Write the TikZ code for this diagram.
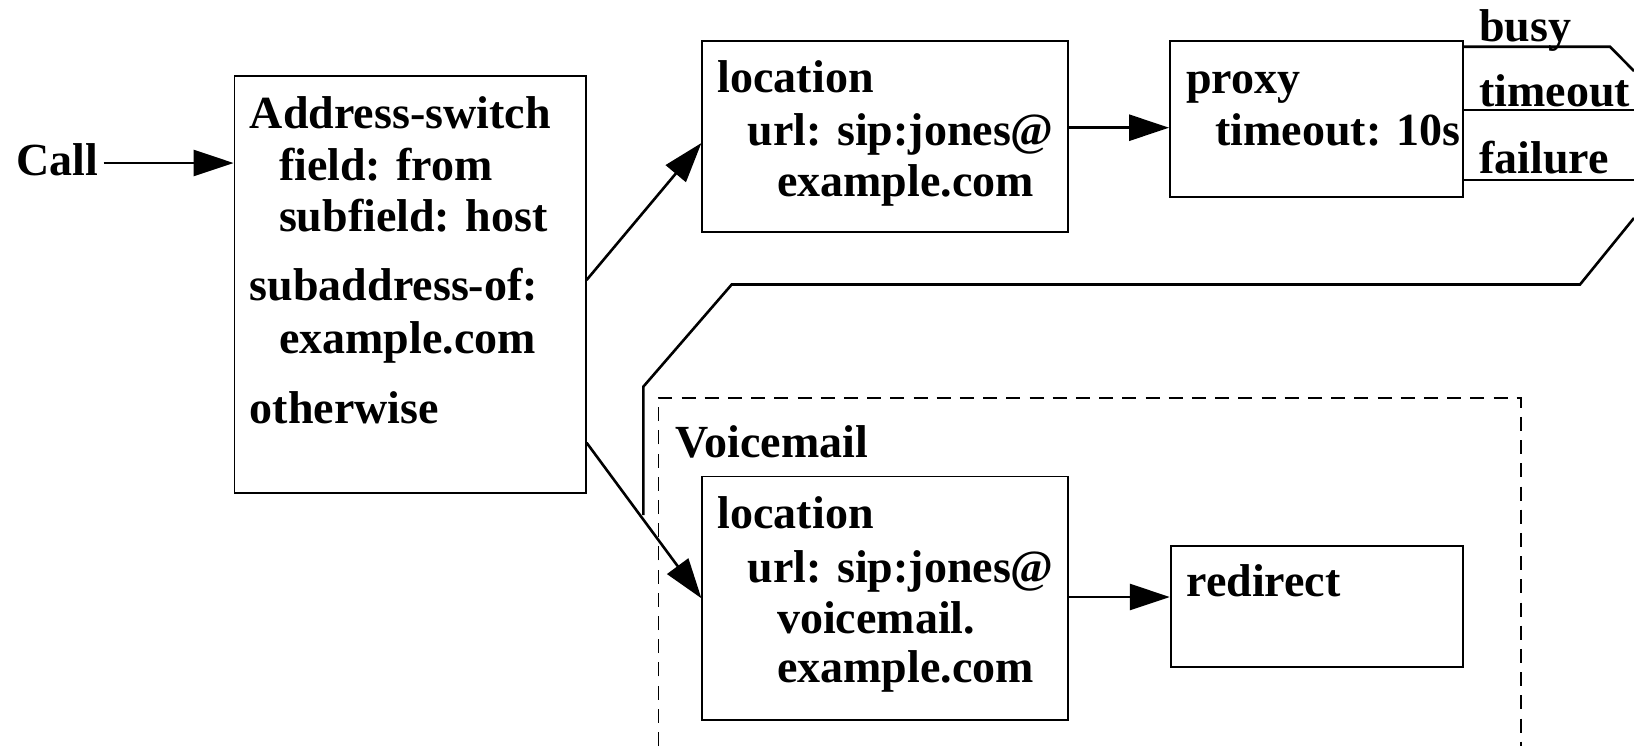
\documentclass[tikz,border=0pt]{standalone}
\usepackage{fontspec}
\setmainfont{Liberation Serif}
\usetikzlibrary{arrows.meta}
\begin{document}
\begin{tikzpicture}[x=0.5pt,y=-0.5pt,
  every node/.style={font=\fontsize{23}{27}\selectfont\bfseries},
  txt/.style={anchor=base west,inner sep=0pt},
  box/.style={draw,line width=0.9pt,rectangle,inner sep=0pt},
  conn/.style={line width=1.3pt},
  arr/.style={conn,-{Triangle[length=20pt,width=13pt]}},
  grp/.style={line width=0.6pt,dash pattern=on 7pt off 4.6pt}]
\useasboundingbox (0,0) rectangle (1634,746);
% boxes
\node[box,minimum width=175.6pt,minimum height=208.8pt] (sw) at (410.1,284.5) {};
\node[box,minimum width=183pt,minimum height=95.35pt] (loc1) at (885.3,136.35) {};
\node[box,minimum width=146.65pt,minimum height=78.15pt] (proxy) at (1316.65,119.15) {};
\node[box,minimum width=183pt,minimum height=121.75pt] (loc2) at (885.3,598.25) {};
\node[box,minimum width=146pt,minimum height=60.8pt] (redir) at (1316.7,606.5) {};
% voicemail group
\draw[grp] (658.3,746) -- (658.3,398) -- (1521,398) -- (1521,746);
\node[txt] (vm) at (675,457.3) {Voicemail};
% texts
\node[txt] (call) at (16,175) {Call};
\node[txt] (sw1) at (249.5,128.3) {Address-switch};
\node[txt] (sw2) at (278.6,180) {field: from};
\node[txt] (sw3) at (278.6,231.7) {subfield: host};
\node[txt] (sw4) at (249.5,300) {subaddress-of:};
\node[txt] (sw5) at (278.6,353) {example.com};
\node[txt] (sw6) at (249.5,423) {otherwise};
\node[txt] (la1) at (717.3,92.7) {location};
\node[txt] (la2) at (747.3,145) {url: sip:jones@};
\node[txt] (la3) at (776.7,196.7) {example.com};
\node[txt] (pa1) at (1186,93.3) {proxy};
\node[txt] (pa2) at (1215,145) {timeout: 10s};
\node[txt] (lb1) at (717.3,528.3) {location};
\node[txt] (lb2) at (747.3,582.7) {url: sip:jones@};
\node[txt] (lb3) at (776.7,633.3) {voicemail.};
\node[txt] (lb4) at (776.7,682.7) {example.com};
\node[txt] (ra1) at (1186,596.7) {redirect};
\node[txt] (busy) at (1479,41.7) {busy};
\node[txt] (tout) at (1479,106) {timeout};
\node[txt] (fail) at (1479,173.3) {failure};
% free ends
\coordinate (busyk) at (1610,46.7);
\coordinate (busye) at (1634,71);
\coordinate (toute) at (1634,110);
\coordinate (faile) at (1634,180);
\coordinate (ret0) at (1634,218);
\coordinate (ret1) at (1580,284.5);
\coordinate (ret2) at (731.7,284.5);
\coordinate (ret3) at (643.3,386.7);
\coordinate (ret4) at (643.3,515);
% connectors
\draw[arr] ([xshift=2.5pt]call.east |- 0,163) -- (sw.west |- 0,163);
\draw[arr] (sw.east |- 0,280) -- (loc1.west |- 0,143);
\draw[arr] (sw.east |- 0,442.7) -- (loc2.west |- 0,598.3);
\draw[arr] (loc1.east |- 0,127.7) -- (proxy.west |- 0,127.7);
\draw[arr] (loc2.east |- 0,597) -- (redir.west |- 0,597);
\draw[conn] (proxy.east |- busyk) -- (busyk) -- (busye);
\draw[conn] (proxy.east |- toute) -- (toute);
\draw[conn] (proxy.east |- faile) -- (faile);
\draw[conn] (ret0) -- (ret1) -- (ret2) -- (ret3) -- (ret4);
\end{tikzpicture}
\end{document}
